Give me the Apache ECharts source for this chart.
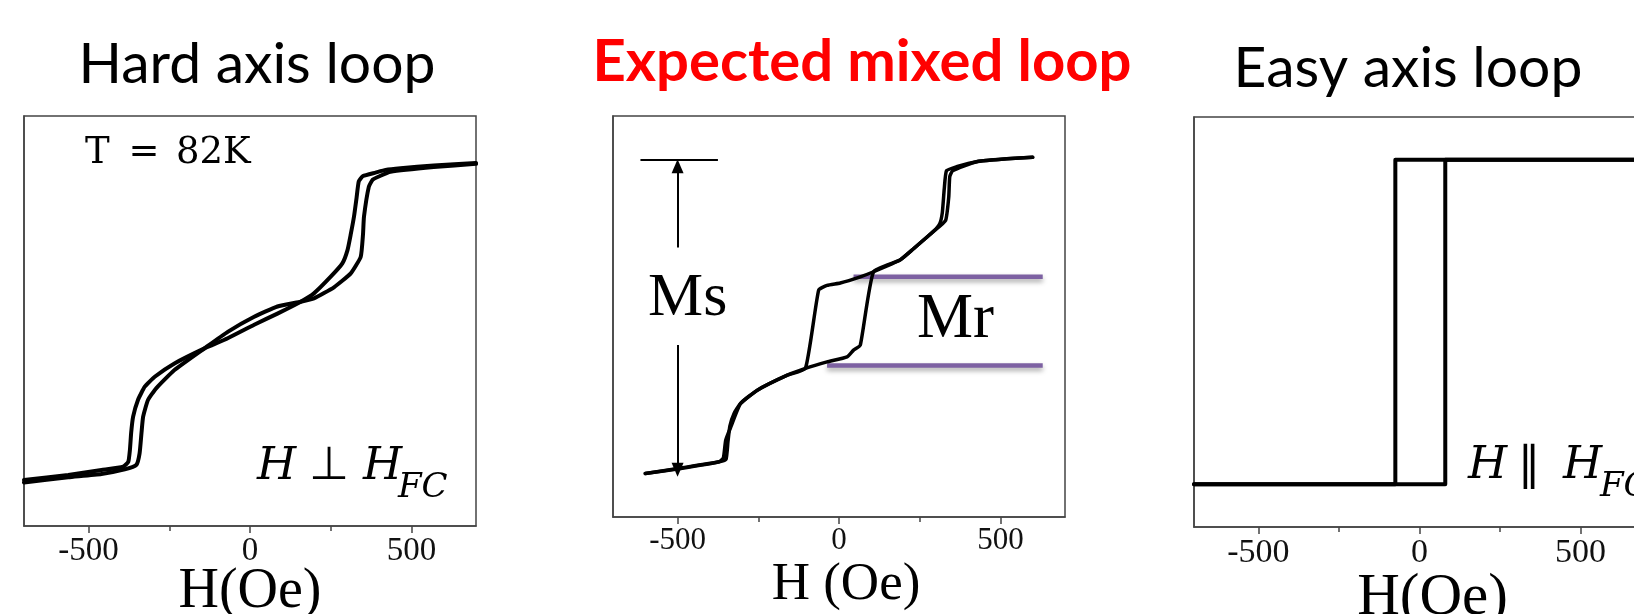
<!DOCTYPE html>
<html>
<head>
<meta charset="utf-8">
<script src="https://cdn.jsdelivr.net/npm/echarts@6/dist/echarts.min.js"></script>
<style>
  html, body { margin: 0; padding: 0; background: #ffffff; }
  #main { width: 1634px; height: 614px; }
</style>
</head>
<body>
<div id="main"></div>
<script>
// ---- Field axis (Oe) ----
const fieldRange = [-700, 700];
const majorTicks = [-500, 0, 500];
const minorTicks = [-250, 250];

// ---- Hard axis loop, T = 82K: [H (Oe), M / Ms] ----
const hardDown = [
  [700, 1.0], [569, 0.985], [466, 0.968], [420, 0.957], [389, 0.94], [350, 0.918],
  [337, 0.885], [330, 0.78], [322, 0.661], [312, 0.55], [302, 0.451], [286, 0.367],
  [250, 0.283], [198, 0.178], [157, 0.125], [85, 0.05], [13, -0.02], [-69, -0.105],
  [-141, -0.169], [-234, -0.264], [-295, -0.348], [-326, -0.411], [-347, -0.495],
  [-362, -0.6], [-368, -0.7], [-372, -0.811], [-377, -0.885], [-393, -0.916],
  [-460, -0.937], [-563, -0.968], [-700, -1.0]
];
const hardUp = [
  [-700, -1.015], [-563, -0.983], [-460, -0.962], [-388, -0.933], [-352, -0.905],
  [-342, -0.832], [-336, -0.7], [-331, -0.6], [-316, -0.495], [-290, -0.42],
  [-234, -0.306], [-141, -0.169], [-69, -0.065], [13, 0.03], [85, 0.095], [157, 0.125],
  [198, 0.146], [260, 0.216], [312, 0.304], [343, 0.409], [350, 0.55], [353, 0.661],
  [368, 0.85], [380, 0.895], [399, 0.915], [435, 0.945], [569, 0.975], [700, 0.995]
];

// ---- Expected mixed loop ----
const mixedDown = [
  [600, 1.0], [520, 0.99], [426, 0.972], [364, 0.94], [333, 0.915], [326, 0.8],
  [320, 0.65], [312, 0.58], [292, 0.53], [230, 0.42], [189, 0.35], [107, 0.276],
  [66, 0.244], [4, 0.205], [-37, 0.19], [-63, 0.16], [-104, -0.335], [-160, -0.378],
  [-253, -0.473], [-305, -0.557], [-335, -0.705], [-351, -0.79], [-358, -0.9],
  [-371, -0.926], [-490, -0.968], [-600, -1.0]
];
const mixedUp = [
  [-600, -1.0], [-490, -0.965], [-371, -0.926], [-350, -0.91], [-344, -0.8],
  [-338, -0.7], [-325, -0.62], [-305, -0.557], [-253, -0.473], [-160, -0.378],
  [-104, -0.335], [-37, -0.294], [25, -0.262], [45, -0.22], [66, -0.188],
  [107, 0.276], [189, 0.35], [230, 0.42], [292, 0.53], [330, 0.6], [340, 0.75],
  [343, 0.877], [352, 0.915], [426, 0.972], [520, 0.99], [600, 1.0]
];
// Remanence levels (Mr) and the field span each marker line covers
const mrLevels = [0.244, -0.317];
const mrSpans = [[45, 631], [-37, 631]];
// Saturation (Ms) marker: field position, top level, bottom level, text gap
const msField = -500;
const msTop = 0.987;
const msBottom = -1.02;
const msGap = [0.43, -0.188];
const msBarSpan = [-615, -375];

// ---- Easy axis loop ----
const easyDown = [[700, 1.0], [-75, 1.0], [-75, -1.0], [-700, -1.0]];
const easyUp = [[-700, -1.0], [80, -1.0], [80, 1.0], [700, 1.0]];

const frameColor = '#444';
const serif = 'Liberation Serif';

function fieldAxes(gridIndex, name, labelSize, labelMargin, nameSize, nameGap, namePad) {
  return [
    {
      gridIndex, type: 'value', min: fieldRange[0], max: fieldRange[1], position: 'bottom',
      axisLine: { show: true, onZero: false, lineStyle: { color: frameColor, width: 1.5 } },
      axisTick: { show: true, customValues: majorTicks, length: 7, lineStyle: { color: frameColor, width: 1.5 } },
      axisLabel: { customValues: majorTicks, margin: labelMargin, fontFamily: serif, fontSize: labelSize, color: '#111' },
      splitLine: { show: false },
      name, nameLocation: 'middle', nameGap, nameMoveOverlap: false,
      nameTextStyle: { fontFamily: serif, fontSize: nameSize, color: '#000', padding: namePad }
    },
    {
      gridIndex, type: 'value', min: fieldRange[0], max: fieldRange[1], position: 'bottom',
      axisLine: { show: false, onZero: false },
      axisTick: { show: true, customValues: minorTicks, length: 5, lineStyle: { color: frameColor, width: 1.5 } },
      axisLabel: { show: false },
      splitLine: { show: false }
    }
  ];
}

function momentAxis(gridIndex, min, max) {
  return {
    gridIndex, type: 'value', min, max,
    axisLine: { show: true, onZero: false, lineStyle: { color: frameColor, width: 1.5 } },
    axisTick: { show: false }, axisLabel: { show: false }, splitLine: { show: false }
  };
}

function loop(axisIndex, data, width, extra) {
  return Object.assign({
    type: 'line', xAxisIndex: axisIndex * 2, yAxisIndex: axisIndex, data,
    showSymbol: false, symbol: 'none', smooth: 0.15, silent: true, animation: false, z: 3,
    lineStyle: { color: '#000', width, join: 'round', cap: 'round' }
  }, extra || {});
}

const headSize = 14;
const headShift = 0.044;

const series = [
  loop(0, hardDown, 4),
  loop(0, hardUp, 4),
  ...mrLevels.map((lvl, i) => ({
    type: 'line', xAxisIndex: 2, yAxisIndex: 1, silent: true, animation: false, z: 2,
    showSymbol: false, symbol: 'none',
    data: [[mrSpans[i][0], lvl], [mrSpans[i][1], lvl]],
    lineStyle: { color: '#7d61a2', width: 4.5, shadowColor: 'rgba(0,0,0,0.35)', shadowBlur: 5, shadowOffsetY: 3 }
  })),
  loop(1, mixedDown, 3.5, {
    markLine: {
      silent: true, animation: false, label: { show: false }, emphasis: { disabled: true },
      symbol: ['none', 'none'],
      lineStyle: { color: '#000', width: 2, type: 'solid' },
      data: [
        [{ coord: [msBarSpan[0], msTop] }, { coord: [msBarSpan[1], msTop] }],
        [{ coord: [msField, msGap[0]], symbol: 'none' },
         { coord: [msField, msTop - headShift], symbol: 'triangle', symbolSize: [12, headSize] }],
        [{ coord: [msField, msGap[1]], symbol: 'none' },
         { coord: [msField, msBottom + headShift], symbol: 'triangle', symbolSize: [12, headSize] }]
      ]
    }
  }),
  loop(1, mixedUp, 3.5),
  loop(2, easyDown, 4, { smooth: false }),
  loop(2, easyUp, 4, { smooth: false })
];

function txt(x, y, text, font, extra) {
  return {
    type: 'text', x, y, silent: true, z: 10,
    style: Object.assign({ text, fill: '#000', align: 'left', verticalAlign: 'top' }, font, extra || {})
  };
}
const titleFont = { fontFamily: 'Lato', fontSize: 57 };
const mathIt = { fontFamily: 'DejaVu Serif', fontStyle: 'italic', fontSize: 45 };
const mathSub = { fontFamily: 'DejaVu Serif', fontStyle: 'italic', fontSize: 34 };
const mathOp = { fontFamily: 'DejaVu Sans', fontSize: 46 };
const mathUp = { fontFamily: 'DejaVu Serif', fontSize: 37 };

const graphic = [
  txt(257, 36, 'Hard axis loop', titleFont, { align: 'center' }),
  txt(862, 33, 'Expected mixed loop', { fontFamily: 'Lato', fontSize: 58, fontWeight: 'bold' }, { align: 'center', fill: '#ff0000' }),
  txt(1408, 40, 'Easy axis loop', titleFont, { align: 'center' }),

  txt(85, 135, 'T', mathUp),
  txt(144, 135, '=', mathUp, { align: 'center' }),
  txt(176, 135, '82K', mathUp),

  txt(257, 445, 'H', mathIt),
  txt(329, 444, '\u22A5', mathOp, { align: 'center' }),
  txt(363, 445, 'H', mathIt),
  txt(398, 471, 'FC', mathSub),

  txt(1468, 444, 'H', mathIt),
  txt(1529, 444, '\u2225', mathOp, { align: 'center' }),
  txt(1563, 444, 'H', mathIt),
  txt(1600, 470, 'FC', mathSub),

  txt(648, 268, 'Ms', { fontFamily: serif, fontSize: 62 }),
  txt(917, 289, 'Mr', { fontFamily: serif, fontSize: 63 })
];

const gridBase = { show: true, borderColor: frameColor, borderWidth: 1.5, outerBoundsMode: 'none', containLabel: false };

const option = {
  backgroundColor: '#ffffff',
  animation: false,
  grid: [
    Object.assign({ left: 24, top: 116, width: 452, height: 410 }, gridBase),
    Object.assign({ left: 613, top: 116, width: 452, height: 401 }, gridBase),
    Object.assign({ left: 1194, top: 117, width: 451, height: 410 }, gridBase)
  ],
  xAxis: [
    ...fieldAxes(0, 'H(Oe)', 33, 9, 56, 38, [0, 0, 0, 0]),
    ...fieldAxes(1, 'H (Oe)', 31, 8, 53, 42, [0, 0, 0, 14]),
    ...fieldAxes(2, 'H(Oe)', 34, 9, 59, 42, [0, 0, 0, 26])
  ],
  yAxis: [
    momentAxis(0, -1.29, 1.297),
    momentAxis(1, -1.275, 1.261),
    momentAxis(2, -1.264, 1.264)
  ],
  series,
  graphic
};

const chart = echarts.init(document.getElementById('main'), null, { renderer: 'canvas' });
chart.setOption(option);
</script>
</body>
</html>
